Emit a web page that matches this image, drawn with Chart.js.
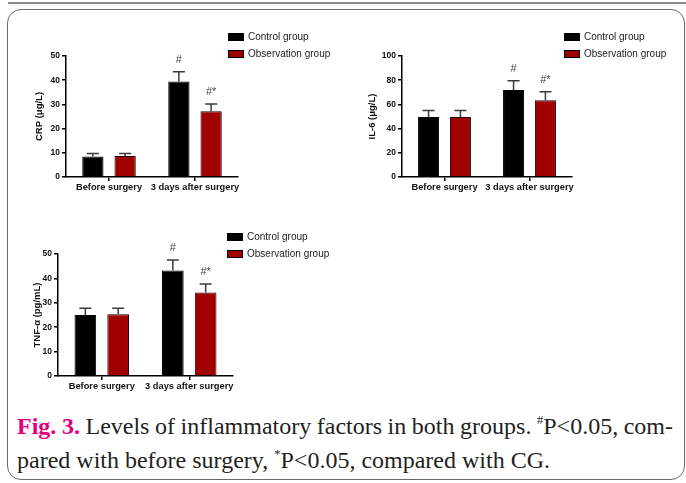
<!DOCTYPE html>
<html>
<head>
<meta charset="utf-8">
<script src="https://cdn.jsdelivr.net/npm/chart.js@4.4.0/dist/chart.umd.min.js"></script>
<style>
  body { margin: 0; background: #fff; width: 686px; height: 483px; position: relative; overflow: hidden; }
  .topline { position: absolute; left: 8px; right: 0; top: 2px; height: 2px; background: #8a8a8a; }
  .frame { position: absolute; left: 7px; top: 9px; width: 678px; height: 471px; border: 1.5px solid #6a6a6a; border-radius: 14px; box-sizing: border-box; }
  canvas { position: absolute; }
  .caption { position: absolute; left: 17px; top: 411px; width: 656px; font-family: "Liberation Serif", "Times New Roman", serif; font-size: 24px; line-height: 30px; color: #231f20; }
  .caption .l1 { text-align: justify; text-align-last: justify; white-space: nowrap; word-spacing: -4px; }
  .caption .fig { color: #e6007e; font-weight: bold; }
  .caption sup { font-size: 12.5px; vertical-align: baseline; position: relative; top: -10px; }
</style>
</head>
<body>
<div class="topline"></div>
<div class="frame"></div>
<canvas id="crp" width="325" height="180" style="left:20px;top:20px"></canvas>
<canvas id="il6" width="336" height="180" style="left:350px;top:20px"></canvas>
<canvas id="tnf" width="330" height="180" style="left:12px;top:220px"></canvas>
<div class="caption">
  <div class="l1"><span class="fig">Fig. 3.</span> Levels of inflammatory factors in both groups. <sup>#</sup>P&lt;0.05, com-</div>
  <div>pared with before surgery, <sup>*</sup>P&lt;0.05, compared with CG.</div>
</div>
<script>
// data
const categories = ['Before surgery', '3 days after surgery'];
const seriesNames = ['Control group', 'Observation group'];

const crpControl = [8.5, 39.5];
const crpObs = [8.7, 27.2];
const crpControlErr = [1.2, 4.0];
const crpObsErr = [1.0, 3.0];
const crpTicks = [0, 10, 20, 30, 40, 50];

const il6Control = [49.5, 72];
const il6Obs = [49.5, 63.5];
const il6ControlErr = [5.5, 7.5];
const il6ObsErr = [5.5, 7.0];
const il6Ticks = [0, 20, 40, 60, 80, 100];

const tnfControl = [25, 43.2];
const tnfObs = [25.3, 34.2];
const tnfControlErr = [2.8, 4.3];
const tnfObsErr = [2.5, 3.5];
const tnfTicks = [0, 10, 20, 30, 40, 50];

const sigControl = ['', '#'];
const sigObs = ['', '#*'];

const FONT = '"Liberation Sans", Arial, sans-serif';

// error bars, significance marks and the small legend
const extras = {
  id: 'extras',
  afterDatasetsDraw(chart, args, opts) {
    const ctx = chart.ctx;
    const y = chart.scales.y;
    chart.data.datasets.forEach((ds, i) => {
      const meta = chart.getDatasetMeta(i);
      meta.data.forEach((bar, j) => {
        const top = y.getPixelForValue(ds.data[j] + ds.errors[j]);
        ctx.save();
        ctx.strokeStyle = '#3a3a3a';
        ctx.lineWidth = 1.5;
        ctx.beginPath();
        ctx.moveTo(bar.x, bar.y);
        ctx.lineTo(bar.x, top);
        ctx.moveTo(bar.x - 6, top);
        ctx.lineTo(bar.x + 6, top);
        ctx.stroke();
        if (ds.sig[j]) {
          ctx.fillStyle = '#444';
          ctx.font = '11px ' + FONT;
          ctx.textAlign = 'center';
          ctx.textBaseline = 'middle';
          ctx.fillText(ds.sig[j], bar.x, top - 12);
        }
        ctx.restore();
      });
    });
    ctx.save();
    chart.data.datasets.forEach((ds, i) => {
      const ly = opts.legendY + i * 17;
      ctx.fillStyle = ds.backgroundColor;
      ctx.fillRect(opts.legendX, ly, 16, 8);
      ctx.strokeStyle = '#000';
      ctx.lineWidth = 1;
      ctx.strokeRect(opts.legendX + 0.5, ly + 0.5, 15, 7);
      ctx.fillStyle = '#222';
      ctx.font = '10px ' + FONT;
      ctx.textBaseline = 'middle';
      ctx.fillText(ds.label, opts.legendX + 20, ly + 4);
    });
    ctx.restore();
  }
};

function makePanel(id, box, area, title, titlePad, ticks, control, obs, controlErr, obsErr, legend) {
  new Chart(document.getElementById(id), {
    type: 'bar',
    data: {
      labels: categories,
      datasets: [
        { label: seriesNames[0], data: control, errors: controlErr, sig: sigControl,
          backgroundColor: '#000000', borderColor: '#000', borderWidth: 1 },
        { label: seriesNames[1], data: obs, errors: obsErr, sig: sigObs,
          backgroundColor: '#a10000', borderColor: '#1a0000', borderWidth: 1 }
      ]
    },
    options: {
      responsive: false,
      animation: false,
      devicePixelRatio: 1,
      categoryPercentage: 0.75,
      barPercentage: 0.66,
      layout: { padding: { top: area.top - box.top, left: 0, right: box.left + box.width - area.right, bottom: 0 } },
      plugins: {
        legend: { display: false },
        tooltip: { enabled: false },
        extras: { legendX: legend.x - box.left, legendY: legend.y - box.top }
      },
      scales: {
        x: {
          grid: { display: true, drawOnChartArea: false, offset: false, tickLength: 4, color: '#000', lineWidth: 1.5 },
          border: { display: true, color: '#000', width: 1.5 },
          ticks: { color: '#111', font: { family: FONT, size: 9.3, weight: 'bold' }, padding: 1, maxRotation: 0, autoSkip: false },
          afterFit: s => { s.height = box.top + box.height - area.bottom; }
        },
        y: {
          min: ticks[0],
          max: ticks[ticks.length - 1],
          afterBuildTicks: s => { s.ticks = ticks.map(v => ({ value: v })); },
          grid: { display: true, drawOnChartArea: false, tickLength: 4, color: '#000', lineWidth: 1.5 },
          border: { display: true, color: '#000', width: 1.5 },
          ticks: { color: '#111', font: { family: FONT, size: 8.5, weight: 'bold' }, padding: 2 },
          title: { display: true, text: title, color: '#111', font: { family: FONT, size: 9.5, weight: 'bold' }, padding: { top: titlePad, bottom: 0 } },
          afterFit: s => { s.width = area.left - box.left; }
        }
      }
    },
    plugins: [extras]
  });
}

makePanel('crp', { left: 20, top: 20, width: 325, height: 180 },
  { left: 66, top: 56, right: 238, bottom: 177 },
  'CRP (μg/L)', 14, crpTicks, crpControl, crpObs, crpControlErr, crpObsErr, { x: 228, y: 33 });

makePanel('il6', { left: 350, top: 20, width: 336, height: 180 },
  { left: 402, top: 56, right: 572, bottom: 177 },
  'IL-6 (μg/L)', 17, il6Ticks, il6Control, il6Obs, il6ControlErr, il6ObsErr, { x: 564, y: 33 });

makePanel('tnf', { left: 12, top: 220, width: 330, height: 180 },
  { left: 58, top: 254, right: 233, bottom: 376 },
  'TNF-α (pg/mL)', 20, tnfTicks, tnfControl, tnfObs, tnfControlErr, tnfObsErr, { x: 227, y: 233 });
</script>
</body>
</html>
